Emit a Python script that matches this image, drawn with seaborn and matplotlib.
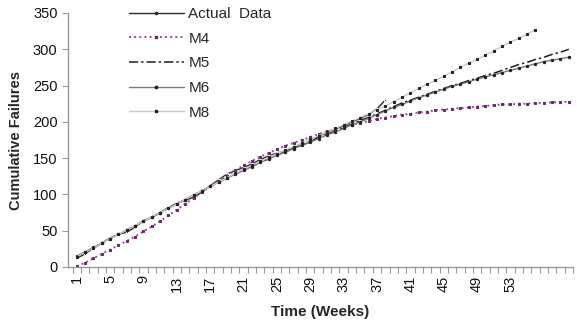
import numpy as np
import pandas as pd
import matplotlib
matplotlib.use("Agg")
import matplotlib.pyplot as plt
import seaborn as sns
from matplotlib.lines import Line2D

sns.set_theme(style="white")
plt.rcParams['font.family'] = ['Liberation Sans', 'DejaVu Sans']

weeks_all = list(range(1, 61))
actual = [12, 18, 26, 33, 40, 45, 48, 55, 64, 68, 75, 82, 88, 92, 96, 103, 112, 120, 128, 133,
          137, 142, 148, 153, 157, 160, 164, 168, 172, 180, 186, 190, 195, 200, 205, 210, 218, 230]
m4 = [1, 6, 12, 18, 24, 30, 36, 42, 49, 56, 63, 71, 79, 87, 95, 103, 111, 119, 126, 133,
      140, 146, 152, 157, 162, 167, 171, 175, 179, 183, 187, 190, 193, 196, 199, 201, 204, 206, 208, 210,
      211, 213, 214, 216, 217, 218, 219, 220, 221, 222, 223, 224, 224, 225, 225, 226, 226, 227, 227, 228]
m5 = [14, 20, 26, 33, 39, 45, 51, 57, 63, 69, 75, 81, 87, 93, 99, 105, 111, 117, 123, 128,
      134, 139, 144, 149, 154, 159, 164, 168, 173, 178, 183, 187, 192, 197, 202, 206, 211, 216, 221, 226,
      230, 234, 238, 242, 246, 250, 253, 257, 260, 264, 267, 271, 275, 279, 282, 286, 289, 293, 296, 300]
m6 = [15, 21, 27, 33, 39, 45, 51, 57, 63, 69, 75, 81, 87, 93, 99, 105, 111, 117, 122, 128,
      133, 138, 144, 149, 154, 158, 163, 168, 172, 177, 182, 186, 191, 196, 200, 205, 210, 215, 220, 224,
      229, 233, 237, 241, 245, 249, 252, 255, 259, 262, 265, 268, 271, 274, 277, 280, 283, 285, 287, 289]
m8 = [14, 20, 26, 33, 39, 45, 51, 57, 63, 69, 75, 81, 87, 93, 99, 105, 111, 117, 123, 129,
      135, 140, 146, 151, 156, 161, 166, 171, 176, 181, 186, 191, 196, 201, 206, 211, 217, 222, 228, 234,
      240, 246, 252, 257, 263, 269, 275, 281, 286, 292, 298, 304, 310, 315, 321, 327]
tick_labels = [1, 5, 9, 13, 17, 21, 25, 29, 33, 37, 41, 45, 49, 53]
y_ticks = [0, 50, 100, 150, 200, 250, 300, 350]

series = [
    ("Actual  Data", actual, dict(color="#2a2a2a", linestyle="-", linewidth=1.0, marker="o", markersize=1.6)),
    ("M4", m4, dict(color="#9a4a9a", linestyle=":", linewidth=1.4, marker="s", markersize=1.6, markeredgecolor="#6a2a6a", markerfacecolor="#6a2a6a")),
    ("M5", m5, dict(color="#1e1e1e", linestyle=(0, (6, 2, 1.5, 2)), linewidth=1.1, marker="", markersize=0)),
    ("M6", m6, dict(color="#7a7a7a", linestyle="-", linewidth=1.0, marker="o", markersize=1.7, markeredgecolor="#222", markerfacecolor="#222")),
    ("M8", m8, dict(color="#c8c8c8", linestyle="-", linewidth=1.0, marker="s", markersize=1.7, markeredgecolor="#222", markerfacecolor="#222")),
]

fig = plt.figure(figsize=(5.77, 3.24), dpi=100)
ax = fig.add_axes([68/577, 1-267/324, 505/577, 254/324])

handles = []
for name, vals, st in series:
    df = pd.DataFrame({"week": weeks_all[:len(vals)], "val": vals})
    sns.lineplot(data=df, x="week", y="val", ax=ax, **st)
    handles.append(Line2D([], [], label=name, **st))

ax.set_xlim(-0.05, 60.4)
ax.set_ylim(0, 350)
ax.set_yticks(y_ticks)
ax.set_xticks(tick_labels)
ax.set_xticklabels([str(t) for t in tick_labels], rotation=90, fontsize=10.5)
ax.set_xticks(np.arange(0.5, 61, 1), minor=True)
ax.tick_params(axis="x", which="major", length=0, pad=6, colors="#111")
ax.tick_params(axis="x", which="minor", length=4, width=0.8, color="#999", direction="out", bottom=True)
ax.tick_params(axis="y", length=4, width=0.8, color="#999", direction="out", left=True, labelsize=10.5, labelcolor="#111")
for s in ["top", "right"]:
    ax.spines[s].set_visible(False)
for s in ["left", "bottom"]:
    ax.spines[s].set_color("#999")
    ax.spines[s].set_linewidth(1.0)

ax.set_xlabel("Time (Weeks)", fontsize=11, fontweight="bold", labelpad=10)
ax.set_ylabel("Cumulative Failures", fontsize=10.5, fontweight="bold", labelpad=7)

leg = ax.legend(handles=handles, loc="upper left", bbox_to_anchor=(0.093, 1.078), frameon=False,
                fontsize=11, handlelength=3.6, labelspacing=0.7, handletextpad=0.3)

fig.savefig("out.png", dpi=100)
